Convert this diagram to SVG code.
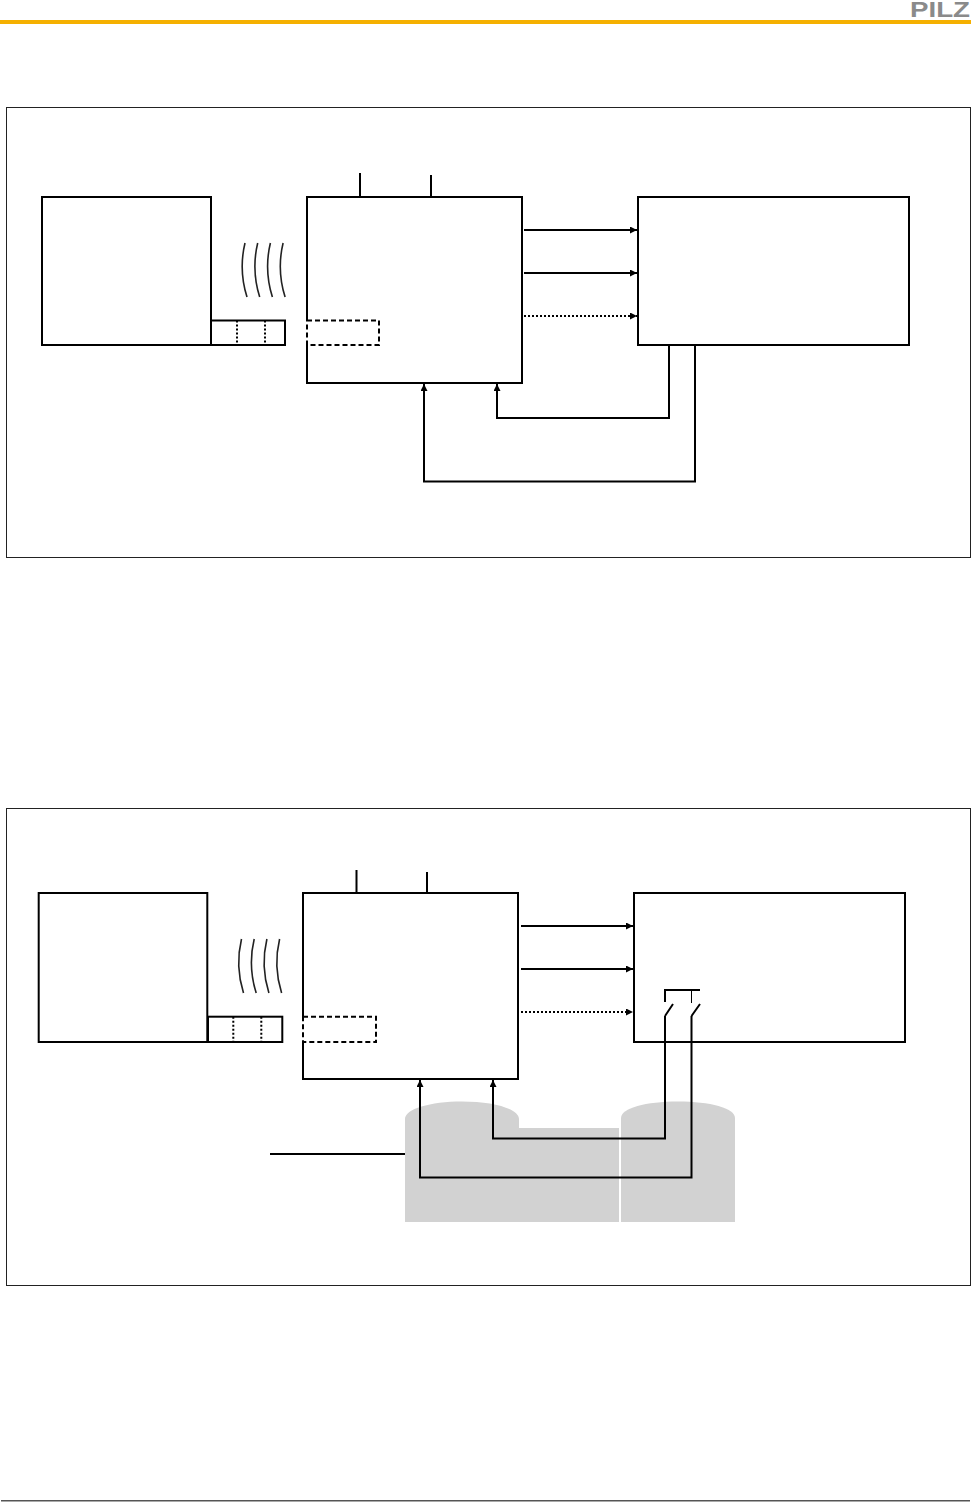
<svg xmlns="http://www.w3.org/2000/svg" width="971" height="1502" viewBox="0 0 971 1502">
<style>
.frame{fill:#fff;stroke:#222;stroke-width:1}
.box{fill:#fff;stroke:#000;stroke-width:2}
.thin{fill:none;stroke:#000;stroke-width:2}
.gap{fill:none;stroke:#fff;stroke-width:2.500}
.dash{fill:none;stroke:#000;stroke-width:2;stroke-dasharray:5 3}
.dot{fill:none;stroke:#000;stroke-width:2;stroke-dasharray:2 2}
.wave{fill:none;stroke:#222;stroke-width:1.600}
.zone{fill:#d2d2d2;stroke:none}
.arrow{marker-end:url(#head)}
</style>
<defs>
<marker id="head" markerUnits="userSpaceOnUse" markerWidth="8" markerHeight="7" refX="7" refY="3.500" orient="auto">
<path d="M0 0L7 3.500L0 7Z" fill="#000"/>
</marker>
<g id="waves">
<path class="wave" d="M5 0Q-1.500 27 7 54"/>
<path class="wave" d="M17.700 0Q11.200 27 19.700 54"/>
<path class="wave" d="M30.400 0Q23.900 27 32.400 54"/>
<path class="wave" d="M43.100 0Q36.600 27 45.100 54"/>
</g>
</defs>
<rect width="971" height="1502" fill="#fff"/>
<g id="header">
<rect x="0" y="20" width="971" height="4" fill="#f5b000"/>
<text x="910" y="17" font-family="'Liberation Sans',Arial,sans-serif" font-weight="700" font-size="22" fill="#8a8a8a" textLength="60" lengthAdjust="spacingAndGlyphs">PILZ</text>
</g>
<rect id="footer-rule" x="1" y="1500" width="969" height="1.500" fill="#555"/>

<rect id="frame-1" class="frame" x="6.500" y="107.500" width="964" height="450"/>
<g id="node-a1"><rect class="box" x="42" y="197" width="169" height="148"/></g>
<g id="node-a1-tab">
<rect class="box" x="211" y="320.500" width="74" height="24.500"/>
<path class="dot" d="M237 320.500V345M265 320.500V345"/>
</g>
<g id="node-b1">
<rect class="box" x="307" y="197" width="215" height="186"/>
<path class="gap" d="M307 321V345"/>
<rect class="dash" x="307" y="320.500" width="72" height="24.500"/>
</g>
<g id="node-c1"><rect class="box" x="638" y="197" width="271" height="148"/></g>
<use id="waves-1" href="#waves" x="240" y="243"/>
<g id="connectors-1">
<path class="thin" d="M360 173V197M431 175V197"/>
<path class="thin arrow" d="M524 230H637"/>
<path class="thin arrow" d="M524 273H637"/>
<path class="dot arrow" d="M524 316H637"/>
<path class="thin arrow" d="M669 345V418H497V384"/>
<path class="thin arrow" d="M695 345V481.500H424V384"/>
</g>

<rect id="frame-2" class="frame" x="6.500" y="808.500" width="964" height="477"/>
<g id="zones">
<path class="zone" d="M405 1222V1119C405 1109 430 1101.500 462 1101.500C494 1101.500 519 1109 519 1119V1128H619V1222Z"/>
<path class="zone" d="M621 1222V1118C621 1108 646 1101.500 678 1101.500C710 1101.500 735 1108 735 1118V1222Z"/>
</g>
<g id="node-a2"><rect class="box" x="38.700" y="893" width="168.600" height="149"/></g>
<g id="node-a2-tab">
<rect class="box" x="208" y="1016.700" width="74.300" height="25.300"/>
<path class="dot" d="M233.300 1016.700V1042M261.300 1016.700V1042"/>
</g>
<g id="node-b2">
<rect class="box" x="303" y="893" width="215" height="186"/>
<path class="gap" d="M303 1017V1042"/>
<rect class="dash" x="303" y="1016.700" width="73" height="25.300"/>
</g>
<g id="node-c2"><rect class="box" x="634" y="893" width="271" height="149"/></g>
<use id="waves-2" href="#waves" x="236.500" y="939"/>
<g id="connectors-2">
<path class="thin" d="M356.500 870V893M427 872V893"/>
<path class="thin arrow" d="M521 926H633"/>
<path class="thin arrow" d="M521 969H633"/>
<path class="dot arrow" d="M521 1012H633"/>
<path class="thin arrow" d="M665 1016V1138.500H493V1080"/>
<path class="thin arrow" d="M691.500 1016V1177.500H420V1080"/>
<path class="thin" d="M270 1154H405"/>
</g>
<g id="switch">
<path class="thin" d="M665 1002V990H700"/>
<path d="M691.500 990V1003" fill="none" stroke="#000" stroke-width="1"/>
<path class="thin" d="M665 1016L673 1004M691.500 1016L700 1004"/>
</g>
</svg>
